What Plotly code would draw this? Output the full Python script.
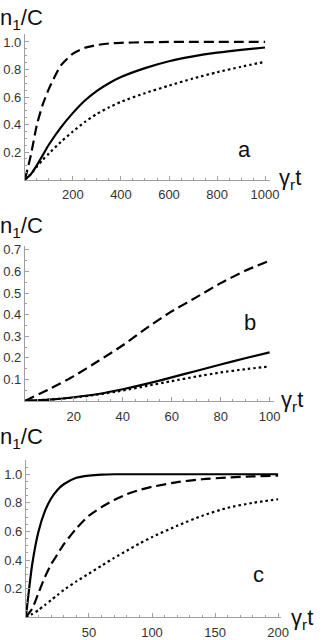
import plotly.graph_objects as go

# ---------------- data ----------------
# panel a
t_a = [0, 25, 50, 75, 100, 150, 200, 250, 300, 350, 400, 500, 600, 700, 800, 900, 1000]
a_solid = [0, 0.04, 0.105, 0.18, 0.255, 0.38, 0.485, 0.575, 0.645, 0.70, 0.745, 0.81, 0.86, 0.895, 0.922, 0.943, 0.96]
a_dashed = [0, 0.18, 0.40, 0.55, 0.66, 0.83, 0.915, 0.958, 0.978, 0.989, 0.994, 0.998, 1.0, 1.0, 1.0, 1.0, 1.0]
a_dotted = [0, 0.04, 0.095, 0.145, 0.19, 0.275, 0.35, 0.42, 0.478, 0.525, 0.565, 0.628, 0.683, 0.735, 0.78, 0.82, 0.856]

# panel b
t_b = [0, 10, 20, 30, 40, 50, 60, 70, 80, 90, 100]
b_solid = [0, 0.006, 0.017, 0.032, 0.054, 0.08, 0.109, 0.139, 0.169, 0.198, 0.225]
b_dashed = [0, 0.055, 0.115, 0.185, 0.258, 0.34, 0.415, 0.48, 0.546, 0.603, 0.65]
b_dotted = [0, 0.006, 0.016, 0.03, 0.048, 0.07, 0.092, 0.113, 0.132, 0.147, 0.16]

# panel c
t_c = [0, 5, 10, 15, 20, 25, 30, 40, 50, 60, 70, 80, 90, 100, 120, 140, 160, 180, 200]
c_solid = [0, 0.37, 0.60, 0.74, 0.83, 0.89, 0.93, 0.975, 0.99, 0.997, 1.0, 1.0, 1.0, 1.0, 1.0, 1.0, 1.0, 1.0, 1.0]
c_dashed = [0, 0.06, 0.17, 0.28, 0.37, 0.44, 0.51, 0.62, 0.71, 0.77, 0.82, 0.86, 0.89, 0.912, 0.945, 0.965, 0.977, 0.985, 0.99]
c_dotted = [0, 0.022, 0.05, 0.085, 0.12, 0.155, 0.19, 0.25, 0.305, 0.36, 0.415, 0.465, 0.515, 0.56, 0.64, 0.71, 0.765, 0.80, 0.825]

x_ticks_a = [200, 400, 600, 800, 1000]
x_ticks_b = [20, 40, 60, 80, 100]
x_ticks_c = [50, 100, 150, 200]
y_ticks_a = [0.2, 0.4, 0.6, 0.8, 1.0]
y_ticks_b = [0.1, 0.2, 0.3, 0.4, 0.5, 0.6, 0.7]
y_ticks_c = [0.2, 0.4, 0.6, 0.8, 1.0]
panel_labels = ["a", "b", "c"]

W, H = 332, 640
FONT = "Liberation Sans, Arial, sans-serif"
AX_COLOR = "#a0a0a0"
TICK_FONT = dict(family=FONT, size=13, color="#333333")


def xd(px0, px1):
    return [px0 / W, px1 / W]


def yd(top, bottom):
    return [1 - bottom / H, 1 - top / H]


fig = go.Figure()

styles = [
    dict(color="black", width=2.2),
    dict(color="black", width=2.2, dash="10px,5px"),
    dict(color="black", width=2.2, dash="2.5px,3px"),
]

panels = [
    (t_a, [a_solid, a_dashed, a_dotted], "x", "y"),
    (t_b, [b_solid, b_dashed, b_dotted], "x2", "y2"),
    (t_c, [c_solid, c_dashed, c_dotted], "x3", "y3"),
]
for t, series, xa, ya in panels:
    for s, st in zip(series, styles):
        fig.add_trace(go.Scatter(x=t, y=s, mode="lines", line=dict(shape="spline", smoothing=0.6, **st),
                                 xaxis=xa, yaxis=ya, showlegend=False, hoverinfo="skip"))


def xaxis(domain, rng, ticks, minor, anchor):
    return dict(domain=domain, range=rng, tickvals=ticks, ticktext=[str(v) for v in ticks],
                showgrid=False, zeroline=False, showline=True, linecolor=AX_COLOR, linewidth=1,
                ticks="inside", ticklen=4, tickcolor=AX_COLOR, tickfont=TICK_FONT, anchor=anchor,
                ticklabelstandoff=3,
                minor=dict(dtick=minor, tick0=0, ticks="inside", ticklen=2, tickcolor=AX_COLOR, showgrid=False),
                fixedrange=True)


def yaxis(domain, rng, ticks, minor, anchor):
    return dict(domain=domain, range=rng, tickvals=ticks, ticktext=["%.1f" % v for v in ticks],
                showgrid=False, zeroline=False, showline=True, linecolor=AX_COLOR, linewidth=1,
                ticks="inside", ticklen=4, tickcolor=AX_COLOR, tickfont=TICK_FONT, anchor=anchor,
                minor=dict(dtick=minor, tick0=0, ticks="inside", ticklen=2, tickcolor=AX_COLOR, showgrid=False),
                fixedrange=True)


fig.update_layout(
    xaxis=xaxis(xd(25.7, 278), [0, 1019], x_ticks_a, 50, "y"),
    yaxis=yaxis(yd(31.7, 178.3), [0, 1.055], y_ticks_a, 0.05, "x"),
    xaxis2=xaxis(xd(25.7, 283), [0, 102], x_ticks_b, 5, "y2"),
    yaxis2=yaxis(yd(244.9, 401.7), [0, 0.72], y_ticks_b, 0.05, "x2"),
    xaxis3=xaxis(xd(26.7, 290), [0, 202.5], x_ticks_c, 10, "y3"),
    yaxis3=yaxis(yd(461.7, 620), [0, 1.097], y_ticks_c, 0.05, "x3"),
)

ann = []
BIG = dict(family=FONT, size=22, color="#111111")
for top in [0, 210, 423]:
    ann.append(dict(text="n<sub>1</sub>/C", x=0 / W, y=1 - top / H, xref="paper", yref="paper",
                    xanchor="left", yanchor="top", showarrow=False, font=BIG, xshift=-2))
for yc, xl in [(178, 286), (402, 288), (622, 298)]:
    ann.append(dict(text="γ<sub>r</sub>t", x=xl / W, y=1 - yc / H, xref="paper", yref="paper",
                    xanchor="left", yanchor="middle", showarrow=False, font=BIG))
for lab, (px, py) in zip(panel_labels, [(252, 148), (258, 323), (267, 577)]):
    ann.append(dict(text=lab, x=px / W, y=1 - py / H, xref="paper", yref="paper",
                    xanchor="center", yanchor="middle", showarrow=False, font=BIG))

fig.update_layout(width=W, height=H, margin=dict(l=0, r=0, t=0, b=0),
                  paper_bgcolor="white", plot_bgcolor="white", annotations=ann)

fig.write_html("out.html", config={"displayModeBar": False},
               post_script="document.body.style.margin='0';document.body.style.overflow='hidden';")
